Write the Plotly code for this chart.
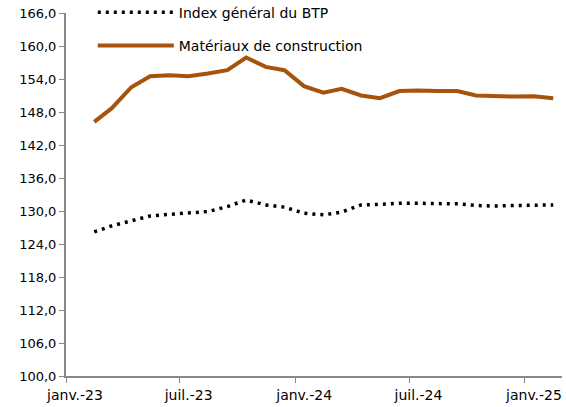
import plotly.graph_objects as go

# monthly values, Feb 2023 -> Feb 2025 (plotted mid-month)
months = ["2023-02-15", "2023-03-15", "2023-04-15", "2023-05-15", "2023-06-15",
          "2023-07-15", "2023-08-15", "2023-09-15", "2023-10-15", "2023-11-15",
          "2023-12-15", "2024-01-15", "2024-02-15", "2024-03-15", "2024-04-15",
          "2024-05-15", "2024-06-15", "2024-07-15", "2024-08-15", "2024-09-15",
          "2024-10-15", "2024-11-15", "2024-12-15", "2025-01-15", "2025-02-15"]

index_btp = [126.2, 127.3, 128.2, 129.1, 129.4, 129.6, 129.9, 130.8, 132.0, 131.1,
             130.7, 129.6, 129.3, 129.8, 131.1, 131.2, 131.4, 131.4, 131.4, 131.3,
             131.0, 130.9, 131.0, 131.1, 131.1]

materiaux = [146.2, 148.7, 152.5, 154.5, 154.7, 154.5, 155.0, 155.6, 157.9, 156.2,
             155.6, 152.7, 151.5, 152.2, 151.0, 150.5, 151.8, 151.9, 151.8, 151.8,
             151.0, 150.85, 150.8, 150.85, 150.5]

tick_dates = ["2023-01-01", "2023-07-01", "2024-01-01", "2024-07-01", "2025-01-01"]
tick_labels = ["janv.-23", "juil.-23", "janv.-24", "juil.-24", "janv.-25"]

fig = go.Figure()
fig.add_trace(go.Scatter(x=months, y=index_btp, mode="lines", name="Index général du BTP",
                         legendgroup="a",
                         line=dict(color="black", width=3.5, dash="3px,5px")))
fig.add_trace(go.Scatter(x=months, y=materiaux, mode="lines", name="Matériaux de construction",
                         legendgroup="b",
                         line=dict(color="#A6530D", width=4)))

fig.update_layout(
    width=566, height=407,
    margin=dict(l=66, r=4, t=13, b=31, autoexpand=False),
    plot_bgcolor="white", paper_bgcolor="white",
    separators=", ",
    font=dict(family="DejaVu Sans", size=14, color="black"),
    showlegend=True,
    legend=dict(x=0.054, y=1.045, xanchor="left", yanchor="top",
                bgcolor="rgba(0,0,0,0)", itemwidth=76, tracegroupgap=12,
                font=dict(size=14)),
    xaxis=dict(type="date", range=["2023-01-01", "2025-03-01"],
               tickvals=tick_dates, ticktext=tick_labels,
               ticks="outside", ticklen=5, tickwidth=1, tickcolor="#888888",
               showline=True, linecolor="#888888", linewidth=2,
               showgrid=False, zeroline=False, ticklabelshift=9,
               tickfont=dict(size=14)),
    yaxis=dict(range=[100, 166], dtick=6, tick0=100, tickformat=".1f",
               ticks="outside", ticklen=5, tickwidth=1, tickcolor="#888888",
               showline=True, linecolor="#888888", linewidth=2,
               showgrid=False, zeroline=False, tickfont=dict(size=13)),
)

# drop the default page margin so the figure sits at the window's corner
fig.write_html("out.html", config={"displayModeBar": False},
               post_script="document.body.style.margin='0';")
